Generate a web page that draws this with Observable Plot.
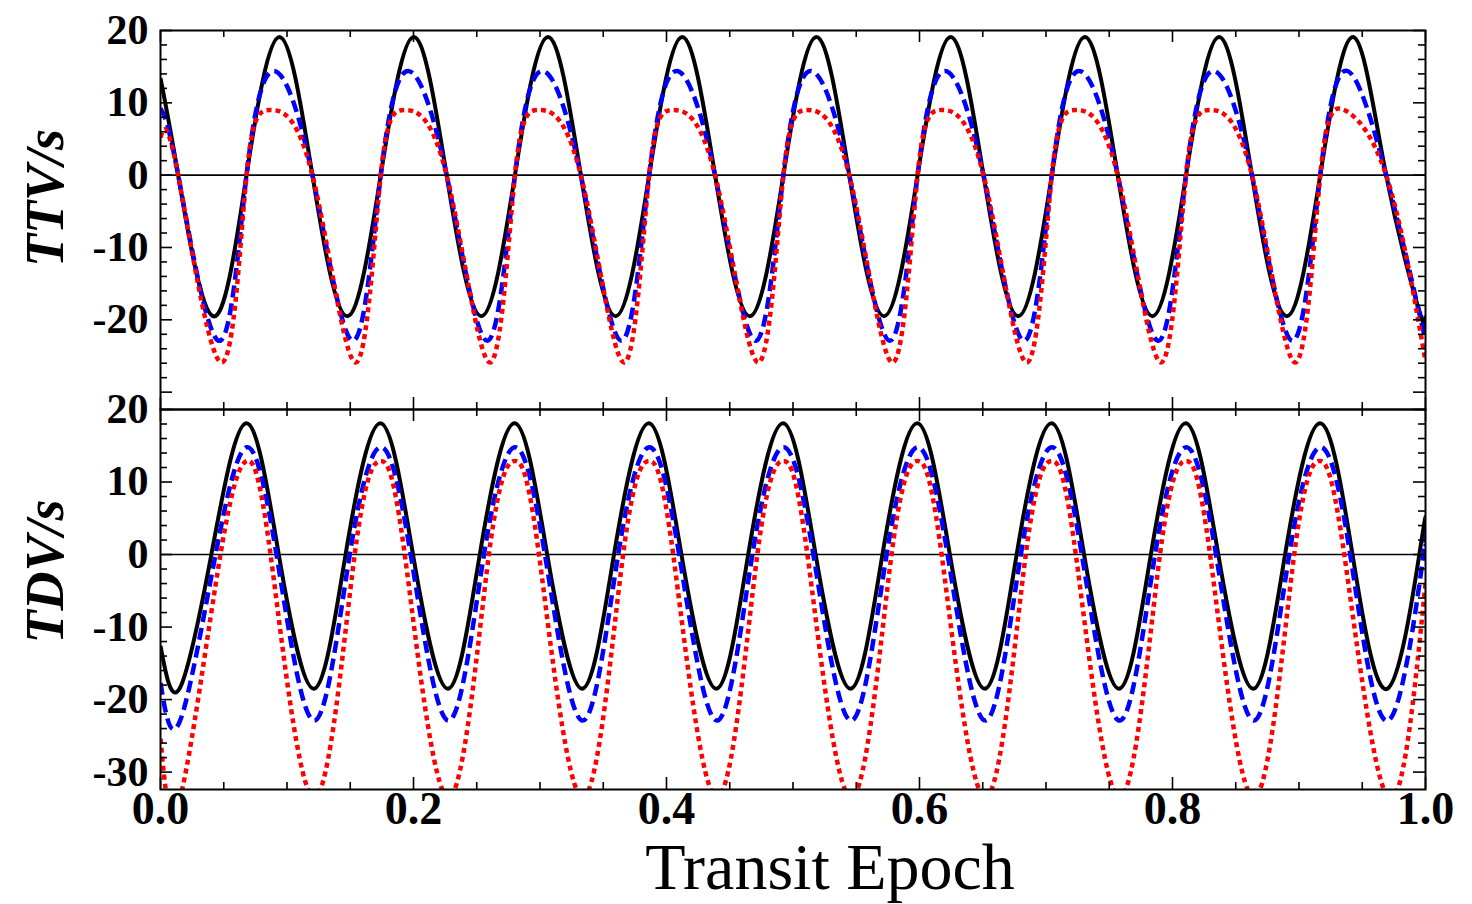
<!DOCTYPE html>
<html>
<head>
<meta charset="utf-8">
<script src="https://cdn.jsdelivr.net/npm/d3@7"></script>
<script src="https://cdn.jsdelivr.net/npm/@observablehq/plot@0.6"></script>
<style>
  html, body { margin: 0; padding: 0; background: #fff; }
  #chart { position: relative; width: 1472px; height: 904px; overflow: hidden; background: #fff; }
  #chart svg { position: absolute; left: 0; top: 0; overflow: visible; }
</style>
</head>
<body>
<div id="chart"></div>
<script>
// ---------- DATA ----------
// Key points [transit epoch, value in s]: starts, troughs, zero crossings, peaks.
const ttvBlack = [
  [0,13.4],
  [0.0140,0],[0.0415,-19.5],[0.0680,0],[0.0941,19.1],
  [0.1201,0],[0.1476,-19.5],[0.1741,0],[0.2002,19.1],
  [0.2262,0],[0.2537,-19.5],[0.2802,0],[0.3063,19.1],
  [0.3323,0],[0.3598,-19.5],[0.3863,0],[0.4124,19.1],
  [0.4384,0],[0.4659,-19.5],[0.4924,0],[0.5185,19.1],
  [0.5445,0],[0.5720,-19.5],[0.5985,0],[0.6246,19.1],
  [0.6506,0],[0.6781,-19.5],[0.7046,0],[0.7307,19.1],
  [0.7567,0],[0.7842,-19.5],[0.8107,0],[0.8368,19.1],
  [0.8628,0],[0.8903,-19.5],[0.9168,0],[0.9429,19.1],
  [0.9689,0],[0.9964,-19.5],[1.0,-19.4]
];
const ttvBlue = [
  [0,9.2],
  [0.0140,0],[0.0461,-22.9],[0.0680,0],[0.0896,14.4],
  [0.1201,0],[0.1522,-22.9],[0.1741,0],[0.1957,14.4],
  [0.2262,0],[0.2583,-22.9],[0.2802,0],[0.3018,14.4],
  [0.3323,0],[0.3644,-22.9],[0.3863,0],[0.4079,14.4],
  [0.4384,0],[0.4705,-22.9],[0.4924,0],[0.5140,14.4],
  [0.5445,0],[0.5766,-22.9],[0.5985,0],[0.6201,14.4],
  [0.6506,0],[0.6827,-22.9],[0.7046,0],[0.7262,14.4],
  [0.7567,0],[0.7888,-22.9],[0.8107,0],[0.8323,14.4],
  [0.8628,0],[0.8949,-22.9],[0.9168,0],[0.9384,14.4],
  [0.9689,0],[1.0,-22.8]
];
const ttvRed = [
  [0,5.2],
  [0.0140,0],[0.0482,-25.9],[0.0680,0],[0.0870,9.0],
  [0.1201,0],[0.1543,-25.9],[0.1741,0],[0.1931,9.0],
  [0.2262,0],[0.2604,-25.9],[0.2802,0],[0.2992,9.0],
  [0.3323,0],[0.3665,-25.9],[0.3863,0],[0.4053,9.0],
  [0.4384,0],[0.4726,-25.9],[0.4924,0],[0.5114,9.0],
  [0.5445,0],[0.5787,-25.9],[0.5985,0],[0.6175,9.0],
  [0.6506,0],[0.6848,-25.9],[0.7046,0],[0.7236,9.0],
  [0.7567,0],[0.7909,-25.9],[0.8107,0],[0.8297,9.0],
  [0.8628,0],[0.8970,-25.9],[0.9168,0],[0.9358,9.0],
  [0.9689,0],[1.0,-25.7]
];
const tdvBlack = [
  [0,-12.6],
  [0.0150,-18.5],[0.0402,0],[0.0677,18.1],[0.0935,0],
  [0.1211,-18.5],[0.1463,0],[0.1738,18.1],[0.1996,0],
  [0.2272,-18.5],[0.2524,0],[0.2799,18.1],[0.3057,0],
  [0.3333,-18.5],[0.3585,0],[0.3860,18.1],[0.4118,0],
  [0.4394,-18.5],[0.4646,0],[0.4921,18.1],[0.5179,0],
  [0.5455,-18.5],[0.5707,0],[0.5982,18.1],[0.6240,0],
  [0.6516,-18.5],[0.6768,0],[0.7043,18.1],[0.7301,0],
  [0.7577,-18.5],[0.7829,0],[0.8104,18.1],[0.8362,0],
  [0.8638,-18.5],[0.8890,0],[0.9165,18.1],[0.9423,0],
  [0.9699,-18.5],[0.9951,0],[1.0,5.0]
];
const tdvBlue = [
  [0,-17.7],
  [0.0155,-22.9],[0.0435,0],[0.0682,14.8],[0.0917,0],
  [0.1216,-22.9],[0.1496,0],[0.1743,14.8],[0.1978,0],
  [0.2277,-22.9],[0.2557,0],[0.2804,14.8],[0.3039,0],
  [0.3338,-22.9],[0.3618,0],[0.3865,14.8],[0.4100,0],
  [0.4399,-22.9],[0.4679,0],[0.4926,14.8],[0.5161,0],
  [0.5460,-22.9],[0.5740,0],[0.5987,14.8],[0.6222,0],
  [0.6521,-22.9],[0.6801,0],[0.7048,14.8],[0.7283,0],
  [0.7582,-22.9],[0.7862,0],[0.8109,14.8],[0.8344,0],
  [0.8643,-22.9],[0.8923,0],[0.9170,14.8],[0.9405,0],
  [0.9704,-22.9],[0.9984,0],[1.0,1.1]
];
const tdvRed = [
  [0,-25.4],
  [0.0155,-33.5],[0.0474,0],[0.0680,12.9],[0.0870,0],
  [0.1216,-33.5],[0.1535,0],[0.1741,12.9],[0.1931,0],
  [0.2277,-33.5],[0.2596,0],[0.2802,12.9],[0.2992,0],
  [0.3338,-33.5],[0.3657,0],[0.3863,12.9],[0.4053,0],
  [0.4399,-33.5],[0.4718,0],[0.4924,12.9],[0.5114,0],
  [0.5460,-33.5],[0.5779,0],[0.5985,12.9],[0.6175,0],
  [0.6521,-33.5],[0.6840,0],[0.7046,12.9],[0.7236,0],
  [0.7582,-33.5],[0.7901,0],[0.8107,12.9],[0.8297,0],
  [0.8643,-33.5],[0.8962,0],[0.9168,12.9],[0.9358,0],
  [0.9704,-33.5],[1.0,-4.0]
];

// Axes / tick labels
const xMajorTicks = [0, 0.2, 0.4, 0.6, 0.8, 1.0];
const xMinorTicks = [0.05,0.1,0.15,0.25,0.3,0.35,0.45,0.5,0.55,0.65,0.7,0.75,0.85,0.9,0.95];
const xTickLabels = ["0.0", "0.2", "0.4", "0.6", "0.8", "1.0"];
const yMajorTicks = [20, 10, 0, -10, -20, -30];
const yMinorTicks = [18,16,14,12,8,6,4,2,-2,-4,-6,-8,-12,-14,-16,-18,-22,-24,-26,-28];
const ttvLabelValues = [20, 10, 0, -10, -20];
const ttvLabelTexts = ["20", "10", "0", "-10", "-20"];
const tdvLabelValues = [20, 10, 0, -10, -20, -30];
const tdvLabelTexts = ["20", "10", "0", "-10", "-20", "-30"];
const yDomain = [-32.4, 20];
const xDomain = [0, 1];
const xTitle = "Transit Epoch";

// ---------- DRAWING ----------
const W = 1472, H = 904, ML = 160, MR = 47;
const SERIF = "'Liberation Serif', 'Times New Roman', serif";
const rows = pairs => pairs.map(([x, y]) => ({x, y}));

function panel({top, bottom, series, labelValues, labelTexts, title, titleDy, withXAxis}) {
  const ky = (bottom - top) / (yDomain[1] - yDomain[0]);
  const kx = (W - ML - MR) / (xDomain[1] - xDomain[0]);
  const yTop = yDomain[1], yBot = yDomain[0];
  const tickStyle = {stroke: "#000", strokeWidth: 1.6};
  const marks = [
    Plot.ruleY([0], {stroke: "#000", strokeWidth: 1.6}),
    ...series.map(s => Plot.line(rows(s.data), {
      x: "x", y: "y", curve: "natural", clip: true,
      stroke: s.color, strokeWidth: s.width,
      strokeDasharray: s.dash, strokeLinecap: "butt"
    })),
    // x ticks on top and bottom edges (inward)
    Plot.ruleX(xMajorTicks, {x: d => d, y1: yTop, y2: yTop - 12 / ky, ...tickStyle}),
    Plot.ruleX(xMinorTicks, {x: d => d, y1: yTop, y2: yTop - 7 / ky, ...tickStyle}),
    Plot.ruleX(xMajorTicks, {x: d => d, y1: yBot, y2: yBot + 12 / ky, ...tickStyle}),
    Plot.ruleX(xMinorTicks, {x: d => d, y1: yBot, y2: yBot + 7 / ky, ...tickStyle}),
    // y ticks on left and right edges (inward)
    Plot.ruleY(yMajorTicks, {y: d => d, x1: xDomain[0], x2: xDomain[0] + 12 / kx, ...tickStyle}),
    Plot.ruleY(yMinorTicks, {y: d => d, x1: xDomain[0], x2: xDomain[0] + 7 / kx, ...tickStyle}),
    Plot.ruleY(yMajorTicks, {y: d => d, x1: xDomain[1], x2: xDomain[1] - 12 / kx, ...tickStyle}),
    Plot.ruleY(yMinorTicks, {y: d => d, x1: xDomain[1], x2: xDomain[1] - 7 / kx, ...tickStyle}),
    Plot.frame({stroke: "#000", strokeWidth: 2}),
    // y tick labels
    Plot.text(labelValues, {
      y: d => d, text: (d, i) => labelTexts[i], frameAnchor: "left",
      textAnchor: "end", lineAnchor: "middle", dx: -12,
      fontFamily: SERIF, fontWeight: "bold", fontSize: 42, fill: "#000"
    }),
    // y title
    Plot.text([title], {
      frameAnchor: "left", textAnchor: "middle", lineAnchor: "middle",
      dx: -115, dy: titleDy, rotate: -90,
      fontFamily: SERIF, fontWeight: "bold", fontStyle: "italic", fontSize: 54, fill: "#000"
    })
  ];
  if (withXAxis) {
    marks.push(
      Plot.text(xMajorTicks, {
        x: d => d, text: (d, i) => xTickLabels[i], frameAnchor: "bottom",
        textAnchor: "middle", lineAnchor: "middle", dy: 20,
        fontFamily: SERIF, fontWeight: "bold", fontSize: 46, fill: "#000"
      }),
      Plot.text([xTitle], {
        frameAnchor: "bottom", textAnchor: "middle", lineAnchor: "middle",
        dx: 37, dy: 78,
        fontFamily: SERIF, fontSize: 66, fill: "#000"
      })
    );
  }
  return Plot.plot({
    width: W, height: H,
    marginLeft: ML, marginRight: MR, marginTop: top, marginBottom: H - bottom,
    x: {domain: xDomain, axis: null},
    y: {domain: yDomain, axis: null},
    style: {background: "transparent", overflow: "visible"},
    marks
  });
}

const chart = document.getElementById("chart");
chart.appendChild(panel({
  top: 30, bottom: 409,
  series: [
    {data: ttvBlack, color: "#000000", width: 4},
    {data: ttvBlue, color: "#0000ff", width: 4.5, dash: "12,6"},
    {data: ttvRed, color: "#ff0000", width: 4.5, dash: "5,4"}
  ],
  labelValues: ttvLabelValues, labelTexts: ttvLabelTexts,
  title: "TTV/s", titleDy: -22, withXAxis: false
}));
chart.appendChild(panel({
  top: 409, bottom: 789,
  series: [
    {data: tdvBlack, color: "#000000", width: 4},
    {data: tdvBlue, color: "#0000ff", width: 4.5, dash: "12,6"},
    {data: tdvRed, color: "#ff0000", width: 4.5, dash: "5,4"}
  ],
  labelValues: tdvLabelValues, labelTexts: tdvLabelTexts,
  title: "TDV/s", titleDy: -28, withXAxis: true
}));
</script>
</body>
</html>
